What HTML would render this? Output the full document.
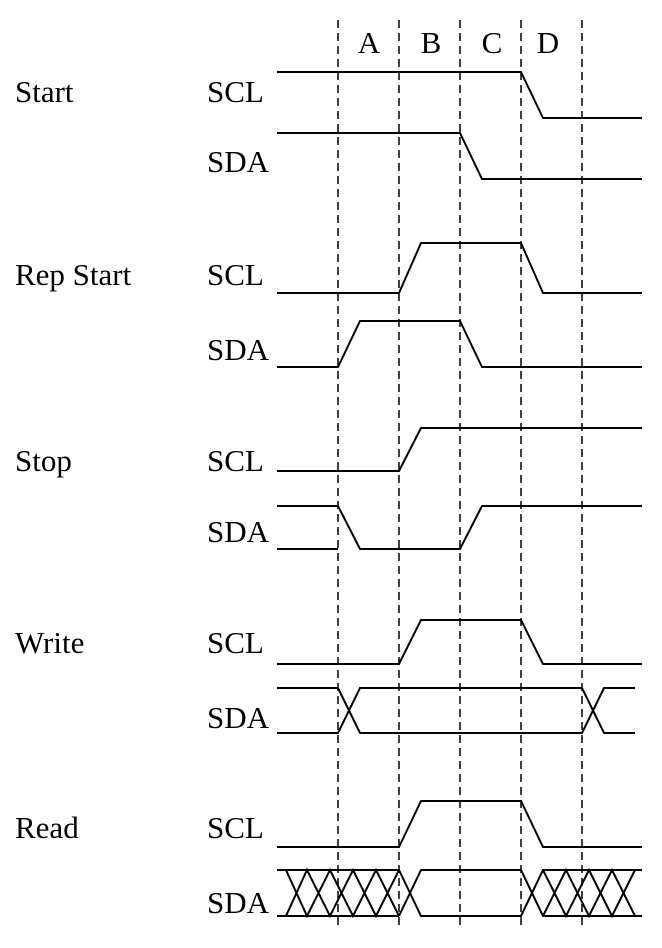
<!DOCTYPE html>
<html><head><style>body{margin:0;background:#fff}svg{display:block}text{font-family:"Liberation Serif",serif;font-size:31px;fill:#000}</style></head><body>
<svg width="662" height="948" viewBox="0 0 662 948" xmlns="http://www.w3.org/2000/svg">
<g stroke="#000" stroke-width="1.5" stroke-dasharray="8,5">
<line x1="338" y1="20" x2="338" y2="930"/><line x1="399" y1="20" x2="399" y2="930"/><line x1="460" y1="20" x2="460" y2="930"/><line x1="521" y1="20" x2="521" y2="930"/><line x1="582" y1="20" x2="582" y2="930"/>
</g>
<text x="369" y="53" text-anchor="middle">A</text><text x="431" y="53" text-anchor="middle">B</text><text x="492" y="53" text-anchor="middle">C</text><text x="548" y="53" text-anchor="middle">D</text>
<text x="15" y="102">Start</text><text x="15" y="285">Rep Start</text><text x="15" y="471">Stop</text><text x="15" y="653">Write</text><text x="15" y="838">Read</text>
<text x="207" y="102">SCL</text><text x="207" y="172">SDA</text>
<text x="207" y="285">SCL</text><text x="207" y="360">SDA</text>
<text x="207" y="471">SCL</text><text x="207" y="542">SDA</text>
<text x="207" y="653">SCL</text><text x="207" y="728">SDA</text>
<text x="207" y="838">SCL</text><text x="207" y="913">SDA</text>
<g fill="none" stroke="#000" stroke-width="2">
<polyline points="277,72 521,72 543,118 642,118"/>
<polyline points="277,133 460,133 482,179 642,179"/>
<polyline points="277,293 399,293 421,243 521,243 543,293 642,293"/>
<polyline points="277,367 338,367 360,321 460,321 482,367 642,367"/>
<polyline points="277,471 399,471 421,428 642,428"/>
<polyline points="277,506 338,506 360,549 460,549 482,506 642,506"/>
<polyline points="277,549 338,549"/>
<polyline points="277,664 399,664 421,620 521,620 543,664 642,664"/>
<polyline points="277,688 338,688 360,733 582,733 604,688 635,688"/>
<polyline points="277,733 338,733 360,688 582,688 604,733 635,733"/>
<polyline points="277,847 399,847 421,801 521,801 543,847 642,847"/>
<line x1="277" y1="870" x2="399" y2="870"/><line x1="277" y1="916" x2="399" y2="916"/>
<polyline points="399,870 421,916 521,916 543,870 642,870"/>
<polyline points="399,916 421,870 521,870 543,916 642,916"/>
<polyline points="286,916 307,870 330,916 353,870 376,916 399,870"/>
<polyline points="286,870 307,916 330,870 353,916 376,870 399,916"/>
<polyline points="543,870 566,916 589,870 612,916 635,870"/>
<polyline points="543,916 566,870 589,916 612,870 635,916"/>
</g>
</svg>
</body></html>
